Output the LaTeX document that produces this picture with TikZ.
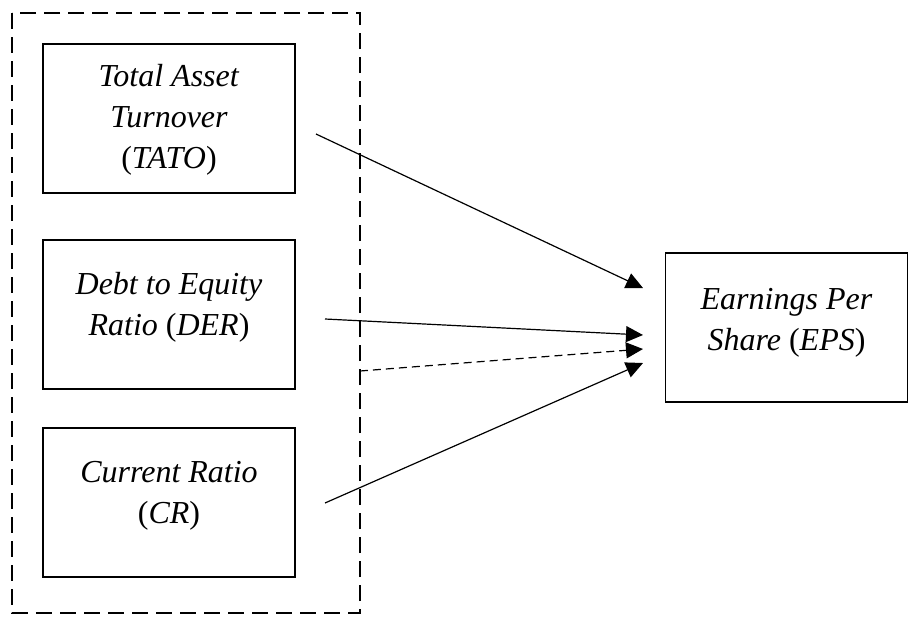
\documentclass[tikz,border=0pt]{standalone}
\usepackage{fontspec}
\setmainfont{Liberation Serif}
\usetikzlibrary{arrows.meta,calc}
\begin{document}
\begin{tikzpicture}[x=0.5pt,y=-0.5pt,
  varbox/.style={draw=black,line width=0.75pt,rectangle,minimum width=126pt,minimum height=74.5pt,inner sep=0pt},
  depbox/.style={draw=black,line width=0.75pt,rectangle,minimum width=121pt,minimum height=74.5pt,inner sep=0pt},
  txt/.style={align=center,font=\fontsize{16pt}{20.5pt}\selectfont,inner sep=0pt},
  grp/.style={draw=black,line width=1pt,dash pattern=on 8pt off 4pt},
  link/.style={line width=0.6pt,-{Triangle[length=8.5pt,width=8pt]}},
  dlink/.style={link,dash pattern=on 4pt off 2.5pt}]
\useasboundingbox (0,0) rectangle (909,622);
\draw[grp] (12,13) rectangle (360,613);
\node[varbox] (tato) at (169,118.5) {};
\node[varbox] (der) at (169,314.5) {};
\node[varbox] (cr) at (169,502.5) {};
\node[depbox] (eps) at (786.5,327.5) {};
\node[txt] (tatot) at ($(tato.center)+(0,1)$) {\textit{Total Asset}\\\textit{Turnover}\\(\textit{TATO})};
\node[txt] (dert) at ($(der.center)+(0,-7)$) {\textit{Debt to Equity}\\\textit{Ratio} (\textit{DER})};
\node[txt] (crt) at ($(cr.center)+(0,-7)$) {\textit{Current Ratio}\\(\textit{CR})};
\node[txt] (epst) at ($(eps.center)+(0,-5)$) {\textit{Earnings Per}\\\textit{Share} (\textit{EPS})};
\coordinate (s1) at (316,134);
\coordinate (s2) at (325,319);
\coordinate (s3) at (360,371);
\coordinate (s4) at (325,503);
\coordinate (e1) at (643,288);
\coordinate (e2) at (643,335);
\coordinate (e3) at (643,349);
\coordinate (e4) at (643,363);
\draw[link] (s1) -- (e1);
\draw[link] (s2) -- (e2);
\draw[dlink] (s3) -- (e3);
\draw[link] (s4) -- (e4);
\end{tikzpicture}
\end{document}
